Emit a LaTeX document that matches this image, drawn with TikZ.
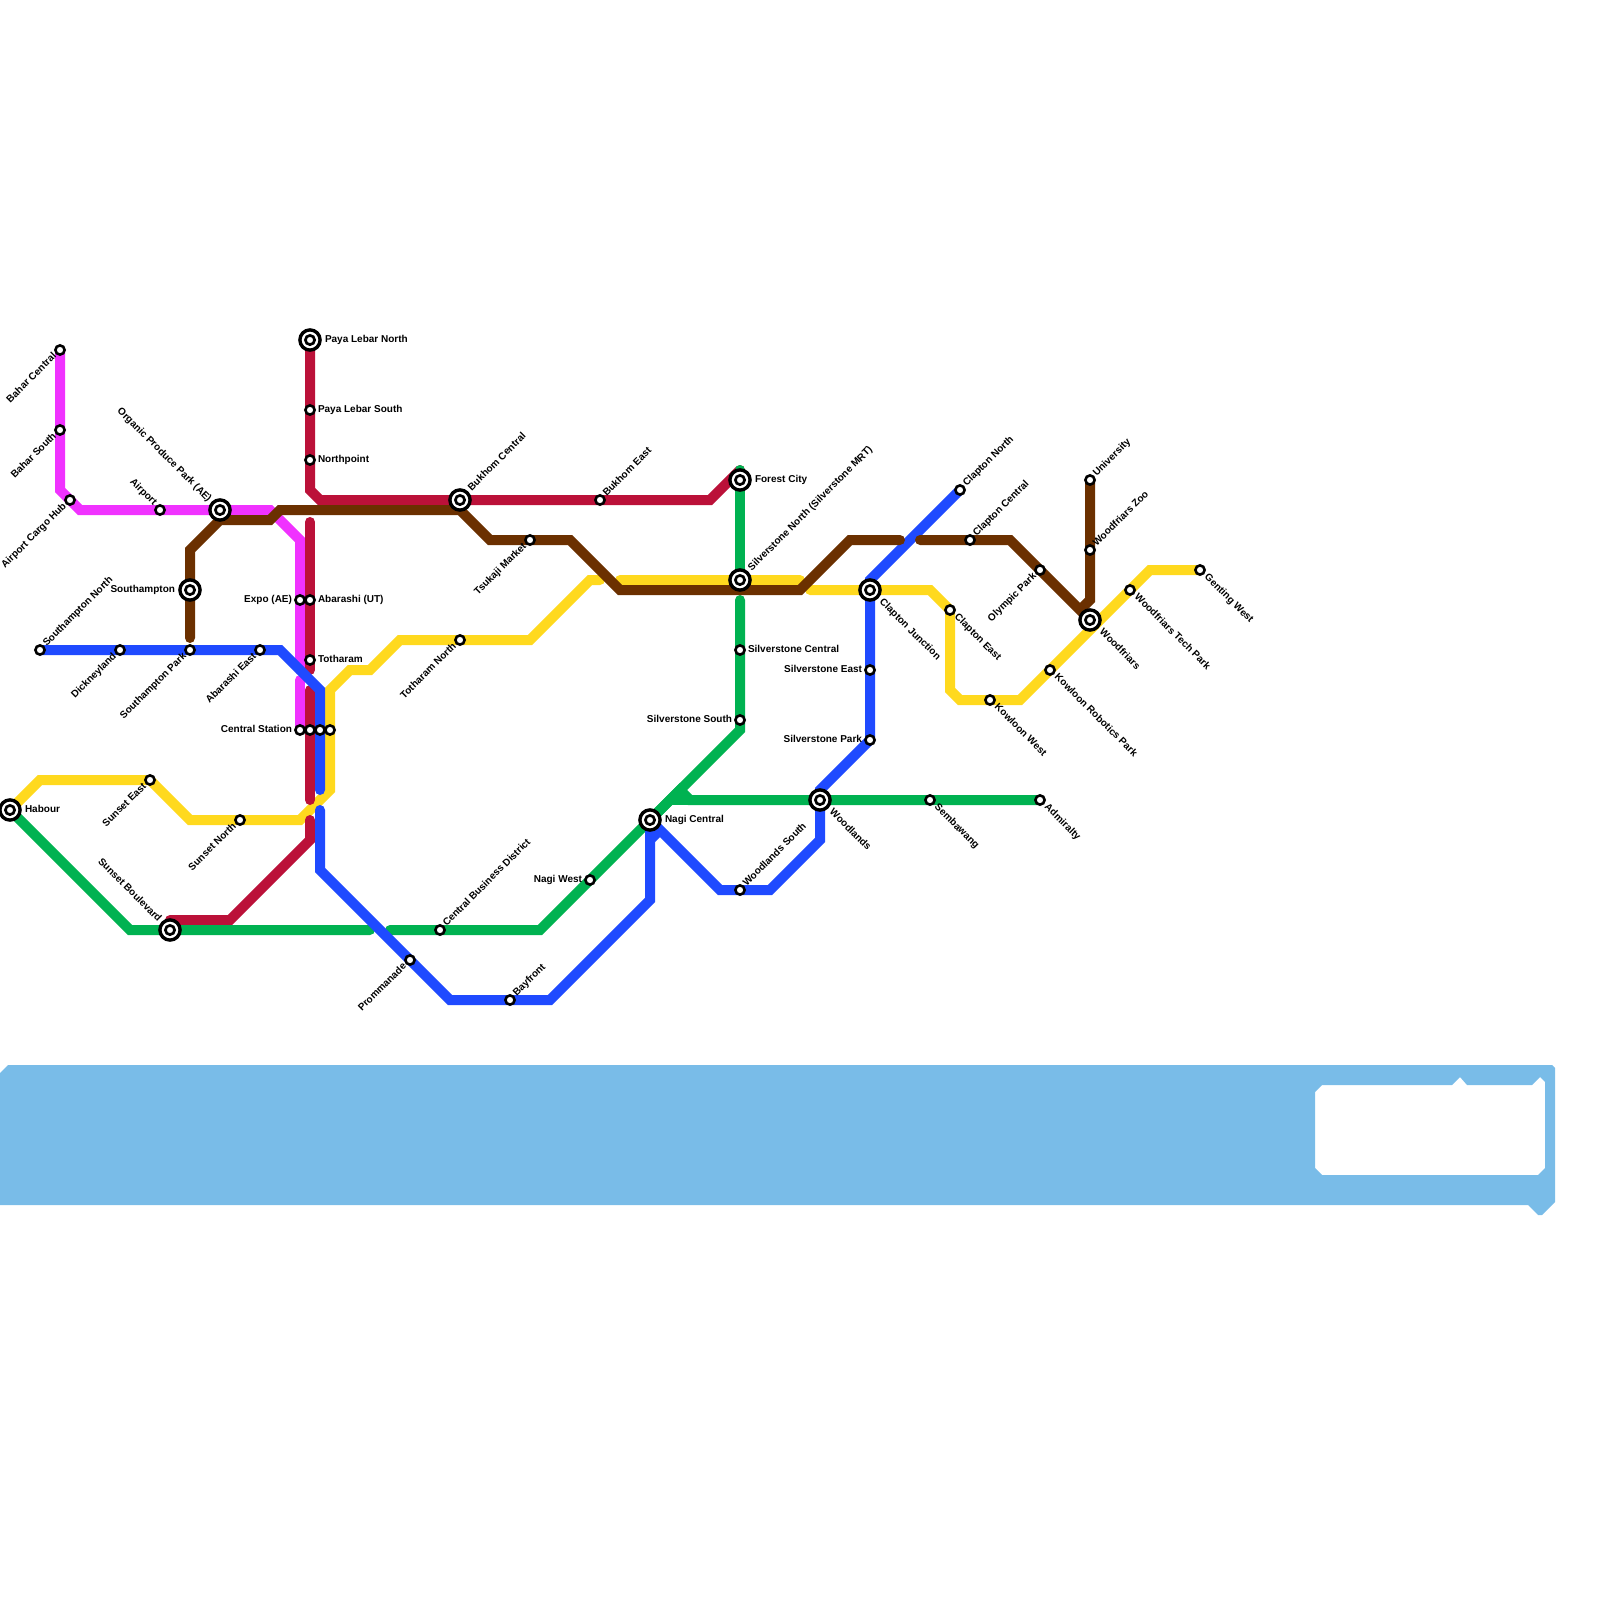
\documentclass[tikz,border=0pt]{standalone}
\usepackage{fontspec}
\setmainfont{Liberation Sans}
\definecolor{cMag}{HTML}{F032FF}
\definecolor{cRed}{HTML}{BB1139}
\definecolor{cBlu}{HTML}{1F4AFF}
\definecolor{cGrn}{HTML}{00B251}
\definecolor{cYel}{HTML}{FFD91E}
\definecolor{cBrn}{HTML}{6B3000}
\definecolor{cWat}{HTML}{79BCE8}
\tikzset{
  metro/.style={line width=10pt,line join=miter,line cap=round},
  lbl/.style={inner sep=0pt,outer sep=0pt,font=\bfseries\fontsize{10pt}{10pt}\selectfont,text=black,text height=7.2pt,text depth=2.1pt},
  stnsmall/.style={circle,draw=black,fill=white,line width=2.6pt,minimum size=9.2pt,inner sep=0pt},
  stnbig/.style={circle,draw=black,fill=white,line width=3.4pt,minimum size=20.2pt,inner sep=0pt},
  stninner/.style={circle,draw=black,fill=white,line width=2.7pt,minimum size=9.2pt,inner sep=0pt},
  lR/.style={lbl,xshift=8pt,anchor=west},
  lL/.style={lbl,xshift=-8pt,anchor=east},
  lRb/.style={lbl,xshift=15pt,anchor=west},
  lLb/.style={lbl,xshift=-15pt,anchor=east},
  lNE/.style={lbl,xshift=5pt,yshift=5pt,rotate=45,anchor=west},
  lNEb/.style={lbl,xshift=10pt,yshift=10.5pt,rotate=45,anchor=west},
  lSW/.style={lbl,xshift=-5pt,yshift=-5pt,rotate=45,anchor=east},
  lNW/.style={lbl,xshift=-5pt,yshift=6pt,rotate=-45,anchor=east},
  lNWb/.style={lbl,xshift=-10.5pt,yshift=9.5pt,rotate=-45,anchor=east},
  lSE/.style={lbl,xshift=6pt,yshift=-6pt,rotate=-45,anchor=west},
  lSEb/.style={lbl,xshift=11pt,yshift=-11pt,rotate=-45,anchor=west},
}
\newcommand{\smallstn}[3]{\node[stnsmall] (#1) at (#2,#3) {};}
\newcommand{\bigstn}[3]{\node[stnbig] (#1) at (#2,#3) {}; \node[stninner] (#1i) at (#2,#3) {};}
\begin{document}
\begin{tikzpicture}[x=1pt,y=-1pt]
\useasboundingbox (0,0) rectangle (1600,1600);
% water
\fill[cWat,even odd rule]
  (0,1073) -- (8,1065) -- (1552,1065) -- (1555,1068) -- (1555,1202) -- (1542,1215) -- (1538,1215) -- (1528,1205) -- (0,1205) -- cycle
  (1315,1092) -- (1322,1085) -- (1452,1085) -- (1460,1077) -- (1467,1085) -- (1532,1085) -- (1540,1077) -- (1545,1082) -- (1545,1168) -- (1538,1175) -- (1322,1175) -- (1315,1168) -- cycle;
% station places
\foreach \n/\x/\y in {BaharC/60/350,BaharS/60/430,Cargo/70/500,Airport/160/510,Organic/220/510,SouthA/190/590,SouthN/40/650,Dick/120/650,SouthP/190/650,AbaE/260/650,Expo/300/600,AbaUT/310/600,Toth/310/660,CenA/300/730,CenB/310/730,CenC/320/730,CenD/330/730,PayaN/310/340,PayaS/310/410,North/310/460,Habour/10/810,SunE/150/780,SunN/240/820,SunB/170/930,Prom/410/960,CBD/440/930,BukC/460/500,BukE/600/500,Tsuk/530/540,TothN/460/640,Forest/740/480,SilN/740/580,SilC/740/650,SilE/870/670,SilS/740/720,SilP/870/740,ClapJ/870/590,ClapN/960/490,ClapC/970/540,ClapE/950/610,KowW/990/700,KowR/1050/670,Wood/1090/620,WoodT/1130/590,Gent/1200/570,Univ/1090/480,WoodZ/1090/550,Oly/1040/570,Woodl/820/800,WoodS/740/890,Semb/930/800,Adm/1040/800,Nagi/650/820,NagiW/590/880,Bay/510/1000}
  {\coordinate (p\n) at (\x,\y);}
% yellow
\draw[metro,cYel] (pHabour) -- (40,780) -- (150,780) -- (190,820) -- (300,820) -- (330,790) -- (330,690) -- (350,670) -- (370,670) -- (400,640) -- (530,640) -- (590,580) -- (600,580);
\draw[metro,cYel] (620,580) -- (800,580);
\draw[metro,cYel] (810,590) -- (930,590) -- (950,610) -- (950,690) -- (960,700) -- (1020,700) -- (1150,570) -- (pGent);
% magenta
\draw[metro,cMag] (pBaharC) -- (60,490) -- (80,510) -- (270,510) -- (300,540) -- (300,670);
\draw[metro,cMag] (300,680) -- (pCenA);
% crimson
\draw[metro,cRed] (pPayaN) -- (310,490) -- (320,500) -- (710,500) -- (740,470);
\draw[metro,cRed] (310,522) -- (310,670);
\draw[metro,cRed] (310,690) -- (310,800);
\draw[metro,cRed] (310,820) -- (310,840) -- (230,920) -- (170,920);
% green
\draw[metro,cGrn] (pHabour) -- (130,930) -- (370,930);
\draw[metro,cGrn] (390,930) -- (540,930) -- (740,730) -- (740,600);
\draw[metro,cGrn] (740,470) -- (pSilN);
\draw[metro,cGrn] (650,820) -- (680,790) -- (690,800) -- (pAdm);
\draw[metro,cGrn] (672,800) -- (690,800);
% blue
\draw[metro,cBlu] (pSouthN) -- (280,650) -- (320,690) -- (320,790);
\draw[metro,cBlu] (320,810) -- (320,870) -- (450,1000) -- (550,1000) -- (650,900) -- (650,840) -- (660,830) -- (720,890) -- (770,890) -- (820,840) -- (pWoodl);
\draw[metro,cBlu] (650,840) -- (pNagi);
\draw[metro,cBlu] (pWoodl) -- (820,790) -- (pSilP) -- (pClapJ) -- (870,580) -- (pClapN);
% brown
\draw[metro,cBrn] (190,638) -- (190,550) -- (220,520) -- (270,520) -- (280,510) -- (460,510) -- (490,540) -- (570,540) -- (620,590) -- (800,590) -- (850,540) -- (900,540);
\draw[metro,cBrn] (920,540) -- (1010,540) -- (1080,610) -- (1090,600) -- (pUniv);
% stations
\smallstn{sBaharC}{60}{350}\smallstn{sBaharS}{60}{430}\smallstn{sCargo}{70}{500}\smallstn{sAirport}{160}{510}
\bigstn{sOrganic}{220}{510}\bigstn{sSouthA}{190}{590}
\smallstn{sSouthN}{40}{650}\smallstn{sDick}{120}{650}\smallstn{sSouthP}{190}{650}\smallstn{sAbaE}{260}{650}
\smallstn{sExpo}{300}{600}\smallstn{sAbaUT}{310}{600}\smallstn{sToth}{310}{660}
\smallstn{sCenA}{300}{730}\smallstn{sCenB}{310}{730}\smallstn{sCenC}{320}{730}\smallstn{sCenD}{330}{730}
\bigstn{sPayaN}{310}{340}\smallstn{sPayaS}{310}{410}\smallstn{sNorth}{310}{460}
\bigstn{sHabour}{10}{810}\smallstn{sSunE}{150}{780}\smallstn{sSunN}{240}{820}\bigstn{sSunB}{170}{930}
\smallstn{sProm}{410}{960}\smallstn{sCBD}{440}{930}\bigstn{sBukC}{460}{500}\smallstn{sBukE}{600}{500}
\smallstn{sTsuk}{530}{540}\smallstn{sTothN}{460}{640}
\bigstn{sForest}{740}{480}\bigstn{sSilN}{740}{580}\smallstn{sSilC}{740}{650}\smallstn{sSilE}{870}{670}
\smallstn{sSilS}{740}{720}\smallstn{sSilP}{870}{740}\bigstn{sClapJ}{870}{590}\smallstn{sClapN}{960}{490}
\smallstn{sClapC}{970}{540}\smallstn{sClapE}{950}{610}\smallstn{sKowW}{990}{700}\smallstn{sKowR}{1050}{670}
\bigstn{sWood}{1090}{620}\smallstn{sWoodT}{1130}{590}\smallstn{sGent}{1200}{570}\smallstn{sUniv}{1090}{480}
\smallstn{sWoodZ}{1090}{550}\smallstn{sOly}{1040}{570}\bigstn{sWoodl}{820}{800}\smallstn{sWoodS}{740}{890}
\smallstn{sSemb}{930}{800}\smallstn{sAdm}{1040}{800}\bigstn{sNagi}{650}{820}\smallstn{sNagiW}{590}{880}\smallstn{sBay}{510}{1000}
% labels
\node[lSW] (tBaharC) at (pBaharC) {Bahar Central};
\node[lSW] (tBaharS) at (pBaharS) {Bahar South};
\node[lSW] (tCargo) at (pCargo) {Airport Cargo Hub};
\node[lNW] (tAirport) at (pAirport) {Airport};
\node[lNWb] (tOrganic) at (pOrganic) {Organic Produce Park (AE)};
\node[lLb] (tSouthA) at (pSouthA) {Southampton};
\node[lNE] (tSouthN) at (pSouthN) {Southampton North};
\node[lSW] (tDick) at (pDick) {Dickneyland};
\node[lSW] (tSouthP) at (pSouthP) {Southampton Park};
\node[lSW] (tAbaE) at (pAbaE) {Abarashi East};
\node[lL] (tExpo) at (pExpo) {Expo (AE)};
\node[lR] (tAbaUT) at (pAbaUT) {Abarashi (UT)};
\node[lR] (tToth) at (pToth) {Totharam};
\node[lL] (tCen) at (pCenA) {Central Station};
\node[lRb] (tPayaN) at (pPayaN) {Paya Lebar North};
\node[lR] (tPayaS) at (pPayaS) {Paya Lebar South};
\node[lR] (tNorth) at (pNorth) {Northpoint};
\node[lRb] (tHabour) at (pHabour) {Habour};
\node[lSW] (tSunE) at (pSunE) {Sunset East};
\node[lSW] (tSunN) at (pSunN) {Sunset North};
\node[lNWb] (tSunB) at (pSunB) {Sunset Boulevard};
\node[lSW] (tProm) at (pProm) {Prommanade};
\node[lNE] (tCBD) at (pCBD) {Central Business District};
\node[lNEb] (tBukC) at (pBukC) {Bukhom Central};
\node[lNE] (tBukE) at (pBukE) {Bukhom East};
\node[lSW] (tTsuk) at (pTsuk) {Tsukaji Market};
\node[lSW] (tTothN) at (pTothN) {Totharam North};
\node[lRb] (tForest) at (pForest) {Forest City};
\node[lNEb] (tSilN) at (pSilN) {Silverstone North (Silverstone MRT)};
\node[lR] (tSilC) at (pSilC) {Silverstone Central};
\node[lL] (tSilE) at (pSilE) {Silverstone East};
\node[lL] (tSilS) at (pSilS) {Silverstone South};
\node[lL] (tSilP) at (pSilP) {Silverstone Park};
\node[lSEb] (tClapJ) at (pClapJ) {Clapton Junction};
\node[lNE] (tClapN) at (pClapN) {Clapton North};
\node[lNE] (tClapC) at (pClapC) {Clapton Central};
\node[lSE] (tClapE) at (pClapE) {Clapton East};
\node[lSE] (tKowW) at (pKowW) {Kowloon West};
\node[lSE] (tKowR) at (pKowR) {Kowloon Robotics Park};
\node[lSEb] (tWood) at (pWood) {Woodfriars};
\node[lSE] (tWoodT) at (pWoodT) {Woodfriars Tech Park};
\node[lSE] (tGent) at (pGent) {Genting West};
\node[lNE] (tUniv) at (pUniv) {University};
\node[lNE] (tWoodZ) at (pWoodZ) {Woodfriars Zoo};
\node[lSW] (tOly) at (pOly) {Olympic Park};
\node[lSEb] (tWoodl) at (pWoodl) {Woodlands};
\node[lNE] (tWoodS) at (pWoodS) {Woodlands South};
\node[lSE] (tSemb) at (pSemb) {Sembawang};
\node[lSE] (tAdm) at (pAdm) {Admiralty};
\node[lRb] (tNagi) at (pNagi) {Nagi Central};
\node[lL] (tNagiW) at (pNagiW) {Nagi West};
\node[lNE] (tBay) at (pBay) {Bayfront};
\end{tikzpicture}
\end{document}
